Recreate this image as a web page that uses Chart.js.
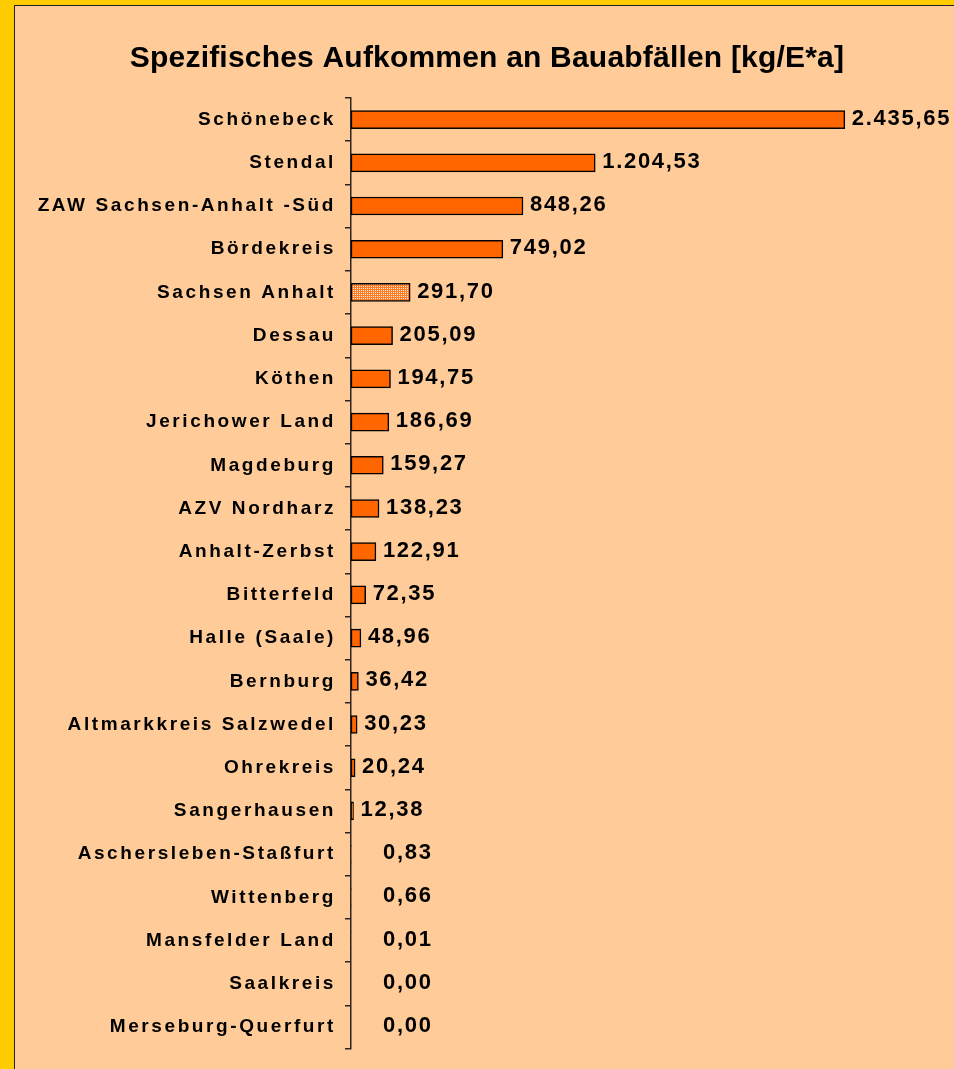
<!DOCTYPE html>
<html>
<head>
<meta charset="utf-8">
<script src="https://cdn.jsdelivr.net/npm/chart.js@4"></script>
<style>
html,body{margin:0;padding:0;background:#FFCC00;overflow:hidden;width:954px;height:1069px}
#frame{position:absolute;left:14px;top:5px;width:940px;height:1064px;background:#FFCC99;border-left:1px solid #222;border-top:1px solid #222;box-sizing:border-box}
canvas{display:block}
</style>
</head>
<body>
<div id="frame"><canvas id="chart" width="939" height="1063"></canvas></div>
<script>
const chartTitle = 'Spezifisches Aufkommen an Bauabfällen [kg/E*a]';
const regions = [
  'Schönebeck', 'Stendal', 'ZAW Sachsen-Anhalt -Süd', 'Bördekreis', 'Sachsen Anhalt',
  'Dessau', 'Köthen', 'Jerichower Land', 'Magdeburg', 'AZV Nordharz', 'Anhalt-Zerbst',
  'Bitterfeld', 'Halle (Saale)', 'Bernburg', 'Altmarkkreis Salzwedel', 'Ohrekreis',
  'Sangerhausen', 'Aschersleben-Staßfurt', 'Wittenberg', 'Mansfelder Land', 'Saalkreis',
  'Merseburg-Querfurt'
];
const values = [
  2435.65, 1204.53, 848.26, 749.02, 291.70,
  205.09, 194.75, 186.69, 159.27, 138.23, 122.91,
  72.35, 48.96, 36.42, 30.23, 20.24,
  12.38, 0.83, 0.66, 0.01, 0.00,
  0.00
];
const stateTotal = 'Sachsen Anhalt';

const FONT = "Arial, 'Liberation Sans', sans-serif";

// dotted fill for the state average
function dotPattern(){
  const c = document.createElement('canvas');
  c.width = 2; c.height = 2;
  const g = c.getContext('2d');
  g.fillStyle = '#FF7A22'; g.fillRect(0,0,2,2);
  g.fillStyle = '#FFEFDF'; g.fillRect(0,0,1,1);
  return g.createPattern(c, 'repeat');
}

function de(v){
  const parts = v.toFixed(2).split('.');
  return parts[0].replace(/\B(?=(\d{3})+(?!\d))/g, '.') + ',' + parts[1];
}

const labelPlugin = {
  id: 'labels',
  beforeDraw(chart){ chart.ctx.letterSpacing = '2.6px'; },
  afterDatasetsDraw(chart){
    const ctx = chart.ctx;
    const meta = chart.getDatasetMeta(0);
    const left = chart.chartArea.left;
    ctx.save();
    ctx.fillStyle = '#000';
    ctx.letterSpacing = '1.7px';
    ctx.font = 'bold 22px ' + FONT;
    ctx.textAlign = 'left';
    ctx.textBaseline = 'middle';
    meta.data.forEach((bar, i) => {
      const v = values[i];
      const x = v < 1 ? left + 32 : bar.x + 7;
      ctx.fillText(de(v), x, bar.y - 1);
    });
    ctx.letterSpacing = '0.2px';
    ctx.font = 'bold 30px ' + FONT;
    ctx.textAlign = 'center';
    ctx.textBaseline = 'alphabetic';
    ctx.fillText(chartTitle, 472, 61);
    ctx.restore();
  }
};

const fill = dotPattern();

new Chart(document.getElementById('chart'), {
  type: 'bar',
  data: {
    labels: regions,
    datasets: [{
      data: values,
      backgroundColor: regions.map(r => r === stateTotal ? fill : '#FF6600'),
      borderColor: '#000',
      borderWidth: 1.5,
      borderSkipped: false,
      barThickness: 18
    }]
  },
  options: {
    indexAxis: 'y',
    responsive: false,
    animation: false,
    devicePixelRatio: 1,
    layout: { padding: { top: 92, bottom: 14, right: 15, left: 0 } },
    plugins: { legend: { display: false }, tooltip: { enabled: false } },
    scales: {
      x: { display: false, min: 0, max: 2900 },
      y: {
        afterFit(scale){ scale.width = 336; },
        ticks: { color: '#000', font: { family: FONT, size: 19, weight: 'bold' }, padding: 9 },
        grid: { offset: true, drawOnChartArea: false, tickLength: 6, color: '#2a2520', lineWidth: 1.5 },
        border: { display: true, color: '#2a2520', width: 1.5 }
      }
    }
  },
  plugins: [labelPlugin]
});
</script>
</body>
</html>
